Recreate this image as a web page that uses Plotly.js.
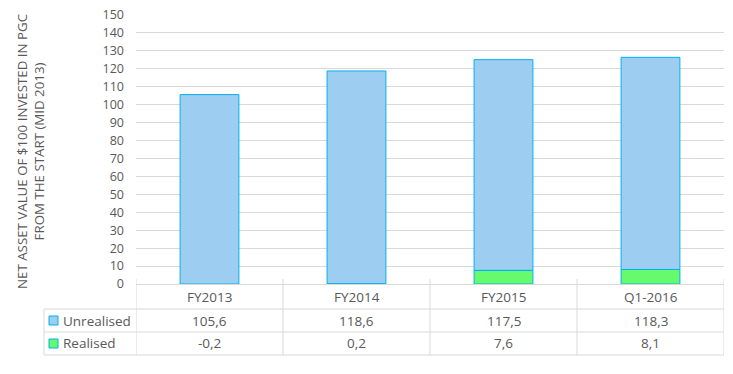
<!DOCTYPE html>
<html><head><meta charset="utf-8">
<script src="https://cdn.plot.ly/plotly-3.0.1.min.js"></script>
<style>html,body{margin:0;padding:0;background:#fff}#chart{width:733px;height:374px}</style>
</head><body><div id="chart"></div>
<script>
const categories = ["FY2013", "FY2014", "FY2015", "Q1-2016"];
const unrealised = [105.6, 118.6, 117.5, 118.3];
const realised = [-0.2, 0.2, 7.6, 8.1];
const seriesNames = ["Unrealised", "Realised"];
const yTitle = "NET ASSET VALUE OF $100 INVESTED IN PGC<br>FROM THE START (MID 2013)";

const fmt = v => v.toFixed(1).replace('.', ',');
const W = 733, H = 374, L = 136, R = 9, T = 15, B = 90;
const pw = W - L - R, ph = H - T - B;
const py = px => -(px - (H - B)) / ph;   // pixel y -> paper y
const pxX = px => (px - L) / pw;          // pixel x -> paper x
const txt = '#595959', grid = '#d9d9d9';
const blue = '#9dcdf0', green = '#66fb6c', edge = '#00b0f0';

const traces = [
  {type: 'bar', x: categories, y: realised, name: seriesNames[1], width: 0.4,
   marker: {color: green, line: {color: edge, width: 1}}, hoverinfo: 'skip'},
  {type: 'bar', x: categories, y: unrealised, name: seriesNames[0], width: 0.4,
   marker: {color: blue, line: {color: edge, width: 1}}, hoverinfo: 'skip'}
];

const shapes = [], annotations = [];
const line = (xref, x0, x1, yref, y0, y1) => shapes.push({type: 'line', xref, yref, x0, x1, y0, y1, line: {color: grid, width: 1}});
// table horizontal lines
line('paper', pxX(44), 1, 'paper', py(309), py(309));
line('paper', pxX(44), 1, 'paper', py(332), py(332));
line('paper', pxX(44), 1, 'paper', py(355), py(355));
line('paper', pxX(44), pxX(44), 'paper', py(309), py(355));
// vertical dividers
for (let i = 0; i <= categories.length; i++) {
  line('x', i - 0.5, i - 0.5, 'paper', py(279), py(355));
}
const rowsY = [py(296.5), py(320.5), py(343.5)];
const cellFont = {size: 13.5, color: txt};
categories.forEach((c, i) => {
  [c, fmt(unrealised[i]), fmt(realised[i])].forEach((t, r) => {
    annotations.push({xref: 'x', yref: 'paper', x: i, y: rowsY[r], xanchor: 'center', yanchor: 'middle', text: t, showarrow: false, font: cellFont});
  });
});
// legend keys
[[seriesNames[0], blue, rowsY[1], 320.5], [seriesNames[1], green, rowsY[2], 343.5]].forEach(([n, col, yy, pyc]) => {
  shapes.push({type: 'rect', xref: 'paper', yref: 'paper', x0: pxX(49), x1: pxX(58), y0: py(pyc + 4.5), y1: py(pyc - 4.5), fillcolor: col, line: {color: edge, width: 1}});
  annotations.push({xref: 'paper', yref: 'paper', x: pxX(61), y: yy, xanchor: 'left', yanchor: 'middle', text: n, showarrow: false, font: cellFont});
});
annotations.push({xref: 'paper', yref: 'paper', x: pxX(30), y: py(152), xanchor: 'center', yanchor: 'middle', text: yTitle, textangle: -90, showarrow: false, font: {size: 13.3, color: txt}});

const layout = {
  width: W, height: H, margin: {l: L, r: R, t: T, b: B},
  paper_bgcolor: '#fff', plot_bgcolor: '#fff',
  barmode: 'relative', showlegend: false,
  font: {family: 'Open Sans, sans-serif', color: txt},
  xaxis: {range: [-0.5, 3.5], showticklabels: false, ticks: '', showgrid: false, zeroline: false, showline: false, fixedrange: true},
  yaxis: {range: [0, 150], dtick: 10, tick0: 0, showgrid: true, gridcolor: grid, gridwidth: 1, zeroline: true, zerolinecolor: grid, zerolinewidth: 1,
          showline: false, ticks: '', tickfont: {size: 12.5, color: txt}, ticklabelstandoff: 11, fixedrange: true},
  shapes, annotations
};
Plotly.newPlot('chart', traces, layout, {displayModeBar: false, staticPlot: true});
</script></body></html>
